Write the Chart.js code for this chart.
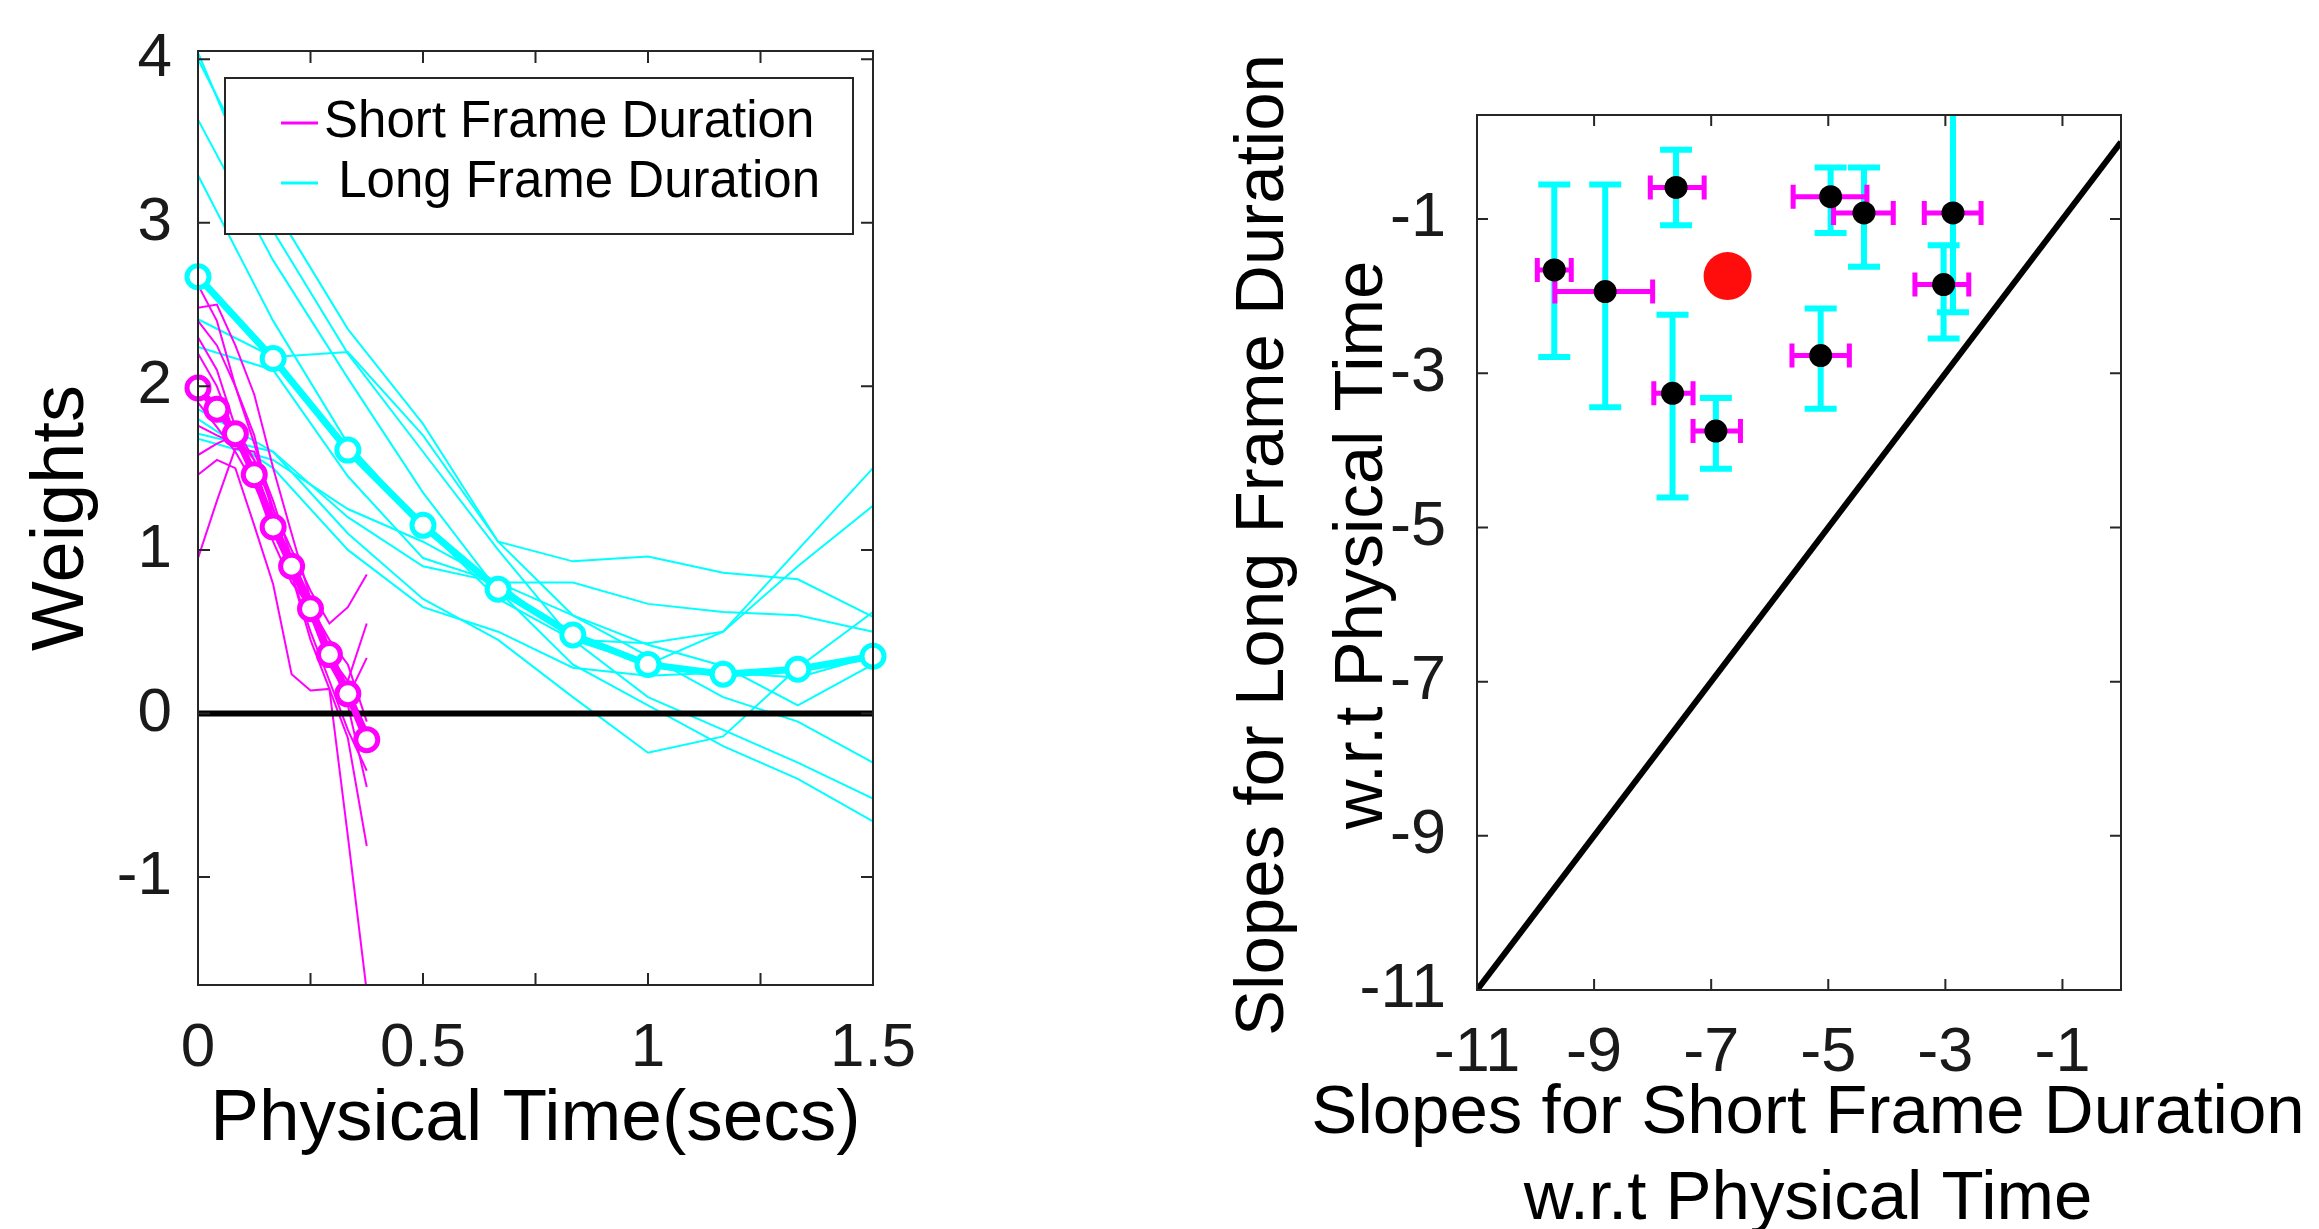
<!DOCTYPE html>
<html>
<head>
<meta charset="utf-8">
<script src="https://cdn.jsdelivr.net/npm/chart.js@4.4.1/dist/chart.umd.min.js"></script>
<style>
  html, body { margin: 0; padding: 0; background: #fff; overflow: hidden; width: 2319px; height: 1229px; }
  #weightsChart { position: absolute; left: 0; top: 0; }
  #slopesChart { position: absolute; left: 1160px; top: 0; }
</style>
</head>
<body>
<canvas id="weightsChart" width="1100" height="1260"></canvas>
<canvas id="slopesChart" width="1159" height="1260"></canvas>
<script>
// ---- left panel: weights over physical time ----
var shortTimes = [0, 0.042, 0.083, 0.125, 0.167, 0.208, 0.25, 0.292, 0.333, 0.375];
var longTimes = [0, 0.167, 0.333, 0.5, 0.667, 0.833, 1, 1.167, 1.333, 1.5];

var shortMean = [1.99, 1.86, 1.71, 1.46, 1.14, 0.90, 0.64, 0.36, 0.12, -0.16];
var longMean = [2.67, 2.17, 1.61, 1.15, 0.76, 0.48, 0.30, 0.24, 0.27, 0.35];

var shortSubjects = [
  [2.48, 2.50, 2.25, 1.95, 1.50, 1.10, 0.70, 0.35, 0.05, -0.45],
  [2.40, 2.25, 2.00, 1.65, 1.25, 0.85, 0.45, 0.15, -0.15, -0.81],
  [1.46, 1.55, 1.50, 1.15, 0.79, 0.24, 0.14, 0.15, -0.75, -1.70],
  [2.20, 2.00, 1.70, 1.55, 1.25, 1.00, 0.75, 0.55, 0.65, 0.85],
  [1.76, 1.70, 1.65, 1.50, 1.20, 0.95, 0.65, 0.35, 0.20, 0.55],
  [1.90, 1.75, 1.60, 1.40, 1.15, 0.90, 0.60, 0.30, 0.10, 0.34],
  [0.95, 1.30, 1.62, 1.60, 1.30, 0.95, 0.70, 0.40, 0.10, -0.20],
  [1.58, 1.65, 1.70, 1.45, 1.15, 0.90, 0.65, 0.40, 0.15, -0.10],
  [2.30, 2.10, 1.75, 1.55, 1.05, 0.80, 0.65, 0.45, 0.30, -0.05],
  [2.62, 2.40, 2.00, 1.70, 1.20, 0.85, 0.50, 0.20, -0.10, -0.35]
];
var longSubjects = [
  [4.04, 2.95, 2.20, 1.60, 1.00, 0.45, 0.10, -0.10, -0.30, -0.52],
  [4.00, 3.10, 2.35, 1.77, 1.05, 0.60, 0.35, 0.10, -0.05, -0.30],
  [3.63, 2.77, 2.05, 1.35, 0.75, 0.30, 0.05, -0.20, -0.40, -0.66],
  [3.29, 2.40, 1.65, 1.15, 0.70, 0.45, 0.43, 0.50, 1.00, 1.50],
  [2.41, 2.18, 2.21, 1.70, 1.05, 0.93, 0.96, 0.86, 0.82, 0.59],
  [2.24, 2.10, 1.45, 0.95, 0.80, 0.80, 0.67, 0.62, 0.60, 0.50],
  [1.86, 1.60, 1.20, 0.90, 0.80, 0.60, 0.42, 0.29, 0.05, 0.30],
  [1.71, 1.60, 1.10, 0.70, 0.45, 0.10, -0.24, -0.14, 0.28, 0.62],
  [1.68, 1.55, 1.25, 1.05, 0.80, 0.45, 0.30, 0.50, 0.90, 1.27],
  [1.80, 1.50, 1.00, 0.65, 0.50, 0.28, 0.23, 0.25, 0.22, 0.35]
];

var leftXTicks = [0, 0.25, 0.5, 0.75, 1, 1.25, 1.5];
var leftXLabels = ['0', '', '0.5', '', '1', '', '1.5'];
var leftYTicks = [-1, 0, 1, 2, 3, 4];
var leftYLabels = ['-1', '0', '1', '2', '3', '4'];
var legendLabels = ['Short Frame Duration', ' Long Frame Duration'];

// ---- right panel: slopes, short vs long ----
var shortSlope = [-9.68, -8.81, -7.60, -7.66, -6.92, -4.96, -4.39, -5.13, -2.87, -3.03];
var longSlope = [-1.66, -1.94, -0.59, -3.26, -3.75, -0.71, -0.92, -2.77, -0.92, -1.85];
var shortLo = [-9.97, -9.67, -8.04, -7.98, -7.31, -5.60, -4.91, -5.62, -3.36, -3.52];
var shortHi = [-9.39, -8.00, -7.12, -7.31, -6.50, -4.34, -3.89, -4.64, -2.39, -2.60];
var longLo = [-2.79, -3.44, -1.08, -4.61, -4.24, -1.18, -1.62, -3.46, -2.21, -2.55];
var longHi = [-0.55, -0.55, -0.10, -2.24, -3.32, -0.33, -0.33, -2.16, 0.60, -1.34];
var meanShortSlope = [-6.72];
var meanLongSlope = [-1.74];

var slopeTicks = [-11, -9, -7, -5, -3, -1];
var slopeLabels = ['-11', '-9', '-7', '-5', '-3', '-1'];
var slopeXTitle = ['Slopes for Short Frame Duration', 'w.r.t Physical Time'];
var slopeYTitle = ['Slopes for Long Frame Duration', 'w.r.t Physical Time'];

var CYAN = '#00ffff';
var MAGENTA = '#ff00ff';
var FRAME = '#262626';
var FONT = "'Liberation Sans', Arial, sans-serif";

Chart.defaults.font.family = FONT;
Chart.defaults.color = '#1a1a1a';

function pts(xs, ys) {
  return xs.map(function (x, i) { return {x: x, y: ys[i]}; });
}

// keep tick label overhang from pushing the plot area around
function noPad(s) {
  s.paddingTop = 0; s.paddingBottom = 0; s.paddingLeft = 0; s.paddingRight = 0;
}

// matlab-like box with inward ticks
var boxPlugin = {
  id: 'box',
  afterDraw: function (chart, args, opts) {
    var ctx = chart.ctx, a = chart.chartArea;
    var L = opts.len || 12;
    ctx.save();
    ctx.strokeStyle = FRAME;
    ctx.lineWidth = 2;
    ctx.strokeRect(a.left, a.top, a.right - a.left, a.bottom - a.top);
    ctx.beginPath();
    chart.scales.x.ticks.forEach(function (t) {
      var px = chart.scales.x.getPixelForValue(t.value);
      ctx.moveTo(px, a.bottom); ctx.lineTo(px, a.bottom - L);
      ctx.moveTo(px, a.top); ctx.lineTo(px, a.top + L);
    });
    chart.scales.y.ticks.forEach(function (t) {
      var py = chart.scales.y.getPixelForValue(t.value);
      ctx.moveTo(a.left, py); ctx.lineTo(a.left + L, py);
      ctx.moveTo(a.right, py); ctx.lineTo(a.right - L, py);
    });
    ctx.stroke();
    ctx.restore();
  }
};

var legendBox = {
  id: 'legendBox',
  afterDatasetsDraw: function (chart) {
    var ctx = chart.ctx, a = chart.chartArea;
    var left = a.left + 27, top = a.top + 27, right = a.right - 20, h = 156;
    ctx.save();
    ctx.fillStyle = '#fff';
    ctx.fillRect(left, top, right - left, h);
    ctx.strokeStyle = FRAME;
    ctx.lineWidth = 2;
    ctx.strokeRect(left, top, right - left, h);
    var rows = [top + 45, top + 105];
    var colors = [MAGENTA, CYAN];
    ctx.font = '51px ' + FONT;
    ctx.textBaseline = 'middle';
    for (var i = 0; i < 2; i++) {
      ctx.strokeStyle = colors[i];
      ctx.lineWidth = 3;
      ctx.beginPath();
      ctx.moveTo(left + 56, rows[i]);
      ctx.lineTo(left + 93, rows[i]);
      ctx.stroke();
      ctx.fillStyle = '#000';
      ctx.fillText(legendLabels[i], left + 99, rows[i]);
    }
    ctx.restore();
  }
};

var errorBars = {
  id: 'errorBars',
  beforeDatasetsDraw: function (chart) {
    var ctx = chart.ctx, a = chart.chartArea, x = chart.scales.x, y = chart.scales.y;
    ctx.save();
    ctx.beginPath();
    ctx.rect(a.left, a.top, a.right - a.left, a.bottom - a.top);
    ctx.clip();
    ctx.strokeStyle = CYAN;
    ctx.lineWidth = 6;
    ctx.beginPath();
    shortSlope.forEach(function (s, i) {
      var px = x.getPixelForValue(s);
      var y1 = y.getPixelForValue(longLo[i]), y2 = y.getPixelForValue(longHi[i]);
      ctx.moveTo(px, y1); ctx.lineTo(px, y2);
      ctx.moveTo(px - 16, y1); ctx.lineTo(px + 16, y1);
      ctx.moveTo(px - 16, y2); ctx.lineTo(px + 16, y2);
    });
    ctx.stroke();
    ctx.strokeStyle = MAGENTA;
    ctx.lineWidth = 5;
    ctx.beginPath();
    longSlope.forEach(function (l, i) {
      var py = y.getPixelForValue(l);
      var x1 = x.getPixelForValue(shortLo[i]), x2 = x.getPixelForValue(shortHi[i]);
      ctx.moveTo(x1, py); ctx.lineTo(x2, py);
      ctx.moveTo(x1, py - 12); ctx.lineTo(x1, py + 12);
      ctx.moveTo(x2, py - 12); ctx.lineTo(x2, py + 12);
    });
    ctx.stroke();
    ctx.restore();
  }
};

// two-line axis titles, drawn without chart.js squeezing them to the axis length
var slopeTitles = {
  id: 'slopeTitles',
  afterDraw: function (chart) {
    var ctx = chart.ctx;
    ctx.save();
    ctx.fillStyle = '#000';
    ctx.font = '69px ' + FONT;
    ctx.textAlign = 'center';
    ctx.textBaseline = 'middle';
    ctx.fillText(slopeXTitle[0], 648, 1114);
    ctx.fillText(slopeXTitle[1], 648, 1200);
    ctx.translate(0, 545);
    ctx.rotate(-Math.PI / 2);
    ctx.fillText(slopeYTitle[0], 0, 104);
    ctx.fillText(slopeYTitle[1], 0, 203);
    ctx.restore();
  }
};

// ---------- left chart ----------
var leftSets = [];
longSubjects.forEach(function (s) {
  leftSets.push({data: pts(longTimes, s), borderColor: CYAN, borderWidth: 2, pointRadius: 0, order: 3});
});
shortSubjects.forEach(function (s) {
  leftSets.push({data: pts(shortTimes, s), borderColor: MAGENTA, borderWidth: 2, pointRadius: 0, order: 2});
});
leftSets.push({data: [{x: 0, y: 0}, {x: 1.5, y: 0}], borderColor: '#000', borderWidth: 6, pointRadius: 0, order: 1});
leftSets.push({data: pts(longTimes, longMean), borderColor: CYAN, borderWidth: 7, pointRadius: 11,
  pointBorderWidth: 5, pointBackgroundColor: '#fff', pointBorderColor: CYAN, clip: false, order: 0});
leftSets.push({data: pts(shortTimes, shortMean), borderColor: MAGENTA, borderWidth: 7, pointRadius: 11,
  pointBorderWidth: 5, pointBackgroundColor: '#fff', pointBorderColor: MAGENTA, clip: false, order: 0});

new Chart(document.getElementById('weightsChart'), {
  type: 'line',
  data: {datasets: leftSets},
  plugins: [boxPlugin, legendBox],
  options: {
    responsive: false,
    animation: false,
    events: [],
    layout: {padding: {top: 51, right: 227, left: 0, bottom: 0}},
    plugins: {legend: {display: false}, tooltip: {enabled: false}, box: {len: 12}},
    elements: {line: {tension: 0}},
    scales: {
      x: {
        type: 'linear', min: 0, max: 1.5,
        afterBuildTicks: function (s) { s.ticks = leftXTicks.map(function (v) { return {value: v}; }); },
        ticks: {callback: function (v, i) { return leftXLabels[i]; }, padding: 27, font: {size: 62},
          maxRotation: 0, autoSkip: false},
        grid: {display: false, drawTicks: false},
        border: {display: false},
        title: {display: true, text: 'Physical Time(secs)', color: '#000', font: {size: 73}, padding: {top: 0, bottom: 96}},
        afterFit: function (s) { noPad(s); s.height = 275; }
      },
      y: {
        type: 'linear', min: -1.66, max: 4.05,
        afterBuildTicks: function (s) { s.ticks = leftYTicks.map(function (v) { return {value: v}; }); },
        ticks: {callback: function (v, i) { return leftYLabels[i]; }, padding: 26, font: {size: 62}, autoSkip: false},
        grid: {display: false, drawTicks: false},
        border: {display: false},
        title: {display: true, text: 'Weights', color: '#000', font: {size: 74}, padding: {top: 18, bottom: 0}},
        afterFit: function (s) { noPad(s); s.width = 198; }
      }
    }
  }
});

// ---------- right chart ----------
new Chart(document.getElementById('slopesChart'), {
  type: 'scatter',
  data: {
    datasets: [
      {data: pts(meanShortSlope, meanLongSlope), backgroundColor: '#ff0d0d', pointRadius: 24, borderWidth: 0, order: 0},
      {data: pts(shortSlope, longSlope), backgroundColor: '#000', pointRadius: 11.5, borderWidth: 0, order: 1},
      {type: 'line', data: [{x: -11, y: -11}, {x: 0, y: 0}], borderColor: '#000', borderWidth: 6, pointRadius: 0, order: 2}
    ]
  },
  plugins: [errorBars, boxPlugin, slopeTitles],
  options: {
    responsive: false,
    animation: false,
    events: [],
    layout: {padding: {top: 115, right: 198, left: 0, bottom: 0}},
    plugins: {legend: {display: false}, tooltip: {enabled: false}, box: {len: 11}},
    scales: {
      x: {
        type: 'linear', min: -11, max: 0,
        afterBuildTicks: function (s) { s.ticks = slopeTicks.map(function (v) { return {value: v}; }); },
        ticks: {callback: function (v, i) { return slopeLabels[i]; }, padding: 26, font: {size: 63},
          maxRotation: 0, autoSkip: false},
        grid: {display: false, drawTicks: false},
        border: {display: false},
        afterFit: function (s) { noPad(s); s.height = 270; }
      },
      y: {
        type: 'linear', min: -11, max: 0.35,
        afterBuildTicks: function (s) { s.ticks = slopeTicks.map(function (v) { return {value: v}; }); },
        ticks: {callback: function (v, i) { return slopeLabels[i]; }, padding: 31, font: {size: 63}, autoSkip: false},
        grid: {display: false, drawTicks: false},
        border: {display: false},
        afterFit: function (s) { noPad(s); s.width = 317; }
      }
    }
  }
});
</script>
</body>
</html>
